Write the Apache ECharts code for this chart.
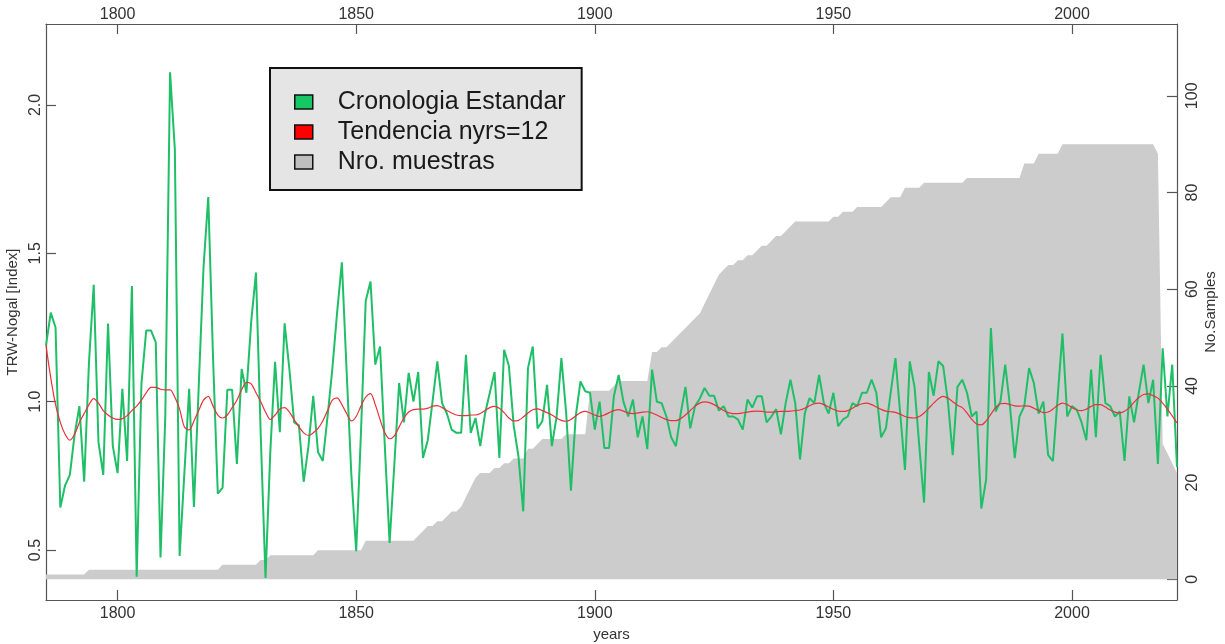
<!DOCTYPE html>
<html>
<head>
<meta charset="utf-8">
<title>Cronologia Estandar - Nogal</title>
<script src="https://cdn.jsdelivr.net/npm/echarts@6/dist/echarts.min.js"></script>
<style>
  html, body { margin: 0; padding: 0; background: #ffffff; }
  #chart { width: 1225px; height: 644px; }
</style>
</head>
<body>
<div id="chart"></div>
<script>
// First calendar year of the chronology; one value per year follows.
const firstYear = 1785;

// Standard ring-width chronology index (TRW), 1785-2022
const standardIndex = [
  1.19, 1.30, 1.25, 0.643, 0.718, 0.753, 0.89, 0.985, 0.73, 1.13,
  1.394, 0.863, 0.753, 1.263, 0.85, 0.759, 1.043, 0.80, 1.39, 0.41,
  1.06, 1.24, 1.24, 1.20, 0.475, 0.95, 2.11, 1.85, 0.48, 0.76,
  1.043, 0.645, 1.05, 1.45, 1.69, 1.15, 0.69, 0.71, 1.04, 1.04,
  0.79, 1.11, 1.03, 1.27, 1.435, 0.885, 0.406, 0.83, 1.134, 0.897,
  1.264, 1.11, 0.93, 0.92, 0.73, 0.85, 1.02, 0.83, 0.80, 0.95,
  1.11, 1.30, 1.47, 1.10, 0.75,
  0.496, 0.895, 1.34, 1.405, 1.125, 1.186, 0.85, 0.524, 0.79, 1.063,
  0.93, 1.097, 1.0, 1.10, 0.81, 0.87, 1.0, 1.136, 0.995, 0.96,
  0.906, 0.895, 0.895, 1.158, 0.895, 0.945, 0.85, 0.96, 1.03, 1.10,
  0.81, 1.175, 1.12, 0.92, 0.816, 0.63, 1.113, 1.186, 0.91, 0.934,
  1.057, 0.85, 0.95, 1.147, 0.962, 0.70, 0.95, 1.068, 1.035, 1.03,
  0.906, 1.0, 0.844, 0.844, 1.018,
  1.09, 1.0, 0.95, 1.007, 0.88, 0.95, 0.84, 1.108, 1.0, 0.995,
  0.95, 0.88, 0.85, 0.96, 1.05, 0.91, 0.985, 1.01, 1.046, 1.02,
  1.02, 0.97, 0.985, 0.95, 0.95, 0.94, 0.906, 1.007, 0.98, 1.018,
  1.018, 0.93, 0.95, 0.975, 0.89, 0.995, 1.074, 0.995, 0.805, 0.96,
  1.012, 0.995, 1.09, 0.995, 0.96, 1.03, 0.917, 0.94, 0.95, 0.995,
  0.985, 1.03, 1.03, 1.074, 1.03, 0.88, 0.91, 1.03,
  1.147, 0.96, 0.77, 1.136, 1.05, 0.85, 0.66, 1.10, 1.02, 1.136,
  1.12, 1.0, 0.82, 1.05, 1.074, 1.03, 0.95, 0.967, 0.64, 0.737,
  1.248, 0.967, 1.0, 1.125, 0.985, 0.81, 0.95, 0.985, 1.113, 1.063,
  0.96, 1.0, 0.82, 0.80, 1.018, 1.23, 0.95, 0.985, 0.973, 0.93,
  0.87, 1.108, 0.88, 1.158, 0.995, 0.985, 0.95, 0.967, 0.80, 1.018,
  0.93, 1.03, 1.125, 0.995, 1.074, 0.79, 1.18, 0.95, 1.125, 0.78
];

// Smoothed trend of the index (12-year spline), 1785-2022
const trend12 = [
  1.19, 1.08, 0.99, 0.93, 0.89, 0.87, 0.89, 0.93, 0.96, 0.99,
  1.01, 0.995, 0.97, 0.955, 0.945, 0.94, 0.943, 0.953, 0.97, 0.985,
  1.005, 1.03, 1.048, 1.048, 1.042, 1.04, 1.04, 1.015, 0.975, 0.915,
  0.905, 0.935, 0.97, 1.005, 1.018, 0.985, 0.955, 0.945, 0.955, 0.98,
  1.005, 1.04, 1.065, 1.06, 1.03, 1.0, 0.965, 0.94, 0.955, 0.975,
  0.98, 0.965, 0.94, 0.915, 0.895, 0.886, 0.895, 0.91, 0.935, 0.97,
  1.005, 1.013, 0.99, 0.96, 0.935,
  0.95, 0.985, 1.015, 1.027, 0.99, 0.94, 0.895, 0.875, 0.885, 0.915,
  0.945, 0.965, 0.973, 0.975, 0.975, 0.978, 0.985, 0.987, 0.98, 0.97,
  0.962, 0.955, 0.953, 0.953, 0.955, 0.955, 0.96, 0.97, 0.98, 0.984,
  0.978, 0.963, 0.945, 0.935, 0.937, 0.948, 0.962, 0.973, 0.976, 0.97,
  0.963, 0.955, 0.945, 0.937, 0.934, 0.94, 0.952, 0.963, 0.967, 0.962,
  0.955, 0.95, 0.955, 0.963, 0.97,
  0.973, 0.968, 0.962, 0.96, 0.962, 0.965, 0.966, 0.962, 0.955, 0.947,
  0.94, 0.936, 0.936, 0.943, 0.955, 0.97, 0.985, 0.995, 0.999, 0.997,
  0.99, 0.98, 0.97, 0.963, 0.96, 0.96, 0.962, 0.965, 0.967, 0.968,
  0.967, 0.965, 0.965, 0.966, 0.967, 0.967, 0.968, 0.97, 0.972, 0.978,
  0.986, 0.993, 0.995, 0.99, 0.982, 0.974, 0.968, 0.967, 0.97, 0.978,
  0.987, 0.993, 0.995, 0.99, 0.982, 0.974, 0.968, 0.966,
  0.964, 0.958, 0.95, 0.946, 0.945, 0.95, 0.962, 0.978, 0.995, 1.01,
  1.018, 1.012, 1.0, 0.988, 0.98, 0.962, 0.94, 0.925, 0.922, 0.935,
  0.958, 0.98, 0.993, 0.994, 0.99, 0.986, 0.985, 0.986, 0.985, 0.978,
  0.97, 0.963, 0.965, 0.975, 0.988, 0.995, 0.99, 0.98, 0.972, 0.97,
  0.975, 0.984, 0.99, 0.99, 0.982, 0.972, 0.965, 0.962, 0.968, 0.98,
  0.998, 1.014, 1.024, 1.026, 1.02, 1.012, 0.995, 0.975, 0.952, 0.928
];

// Number of measured series per year, 1785-2022
const sampleDepth = [
  1, 1, 1, 1, 1, 1, 1, 1, 1, 2,
  2, 2, 2, 2, 2, 2, 2, 2, 2, 2,
  2, 2, 2, 2, 2, 2, 2, 2, 2, 2,
  2, 2, 2, 2, 2, 2, 2, 3, 3, 3,
  3, 3, 3, 3, 3, 4, 4, 5, 5, 5,
  5, 5, 5, 5, 5, 5, 5, 6, 6, 6,
  6, 6, 6, 6, 6, 6, 6, 8, 8, 8,
  8, 8, 8, 8, 8, 8, 8, 8, 9, 10,
  11, 11, 12, 12, 13, 14, 14, 15, 17, 19,
  21, 22, 22, 22, 23, 23, 24, 24, 25, 25,
  25, 27, 27, 28, 29, 29, 29, 29, 29, 30,
  30, 30, 30, 30, 39, 39, 39, 39, 39, 40,
  41, 41, 41, 41, 41, 41, 41, 47, 47, 48,
  48, 49, 50, 51, 52, 53, 54, 55, 57, 59,
  61, 63, 64, 65, 65, 66, 66, 67, 67, 68,
  69, 69, 70, 71, 71, 72, 73, 74, 74, 74,
  74, 74, 74, 74, 74, 75, 75, 76, 76, 76,
  77, 77, 77, 77, 77, 77, 78, 79, 79, 79,
  81, 81, 81, 81, 82, 82, 82, 82, 82, 82,
  82, 82, 82, 83, 83, 83, 83, 83, 83, 83,
  83, 83, 83, 83, 83, 86, 86, 86, 88, 88,
  88, 88, 88, 90, 90, 90, 90, 90, 90, 90,
  90, 90, 90, 90, 90, 90, 90, 90, 90, 90,
  90, 90, 90, 88, 28, 26, 24, 22
];

// Tick positions shared by the bottom and top year axes
const yearTicks = [1800, 1850, 1900, 1950, 2000];
const indexTicks = [0.5, 1.0, 1.5, 2.0];
const sampleTicks = [0, 20, 40, 60, 80, 100];

const seriesNames = ['Cronologia Estandar', 'Tendencia nyrs=12', 'Nro. muestras'];

function pairWithYears(values) {
  return values.map((v, i) => [firstYear + i, v]);
}

const FONT = "'Liberation Sans', Arial, Helvetica, sans-serif";
const AXIS_GREY = '#555555';
const TEXT_GREY = '#333333';

function yearAxis(position, withName) {
  const axis = {
    type: 'value',
    position: position,
    min: 1785,
    max: 2022,
    axisLine: { show: true, onZero: false, lineStyle: { color: AXIS_GREY, width: 1.2 } },
    axisTick: { show: true, inside: true, length: 10, customValues: yearTicks,
                lineStyle: { color: AXIS_GREY, width: 1.2 } },
    axisLabel: { show: true, customValues: yearTicks, fontSize: 16, color: TEXT_GREY,
                 fontFamily: FONT, margin: position === 'top' ? 1 : 6,
                 formatter: v => String(Math.round(v)) },
    splitLine: { show: false }
  };
  if (withName) {
    axis.name = 'years';
    axis.nameLocation = 'middle';
    axis.nameGap = 26;
    axis.nameTextStyle = { fontSize: 15, color: TEXT_GREY, fontFamily: FONT };
  }
  return axis;
}

const chart = echarts.init(document.getElementById('chart'), null, { renderer: 'canvas' });

chart.setOption({
  animation: false,
  backgroundColor: '#ffffff',
  grid: { left: 46, right: 48, top: 24, bottom: 44, containLabel: false, outerBoundsMode: 'none' },
  legend: {
    orient: 'vertical',
    left: 270,
    top: 68,
    padding: [21, 16, 15, 24],
    itemGap: 4,
    itemWidth: 18,
    itemHeight: 14,
    backgroundColor: '#e5e5e5',
    borderColor: '#111111',
    borderWidth: 2,
    borderRadius: 0,
    selectedMode: false,
    textStyle: { fontSize: 25, fontFamily: FONT, color: '#1a1a1a', padding: [0, 0, 0, 20], lineHeight: 26 },
    data: [
      { name: seriesNames[0], icon: 'rect', itemStyle: { color: '#16c766', borderColor: '#111', borderWidth: 1.5 } },
      { name: seriesNames[1], icon: 'rect', itemStyle: { color: '#ff0000', borderColor: '#111', borderWidth: 1.5 } },
      { name: seriesNames[2], icon: 'rect', itemStyle: { color: '#bebebe', borderColor: '#111', borderWidth: 1.5 } }
    ]
  },
  xAxis: [yearAxis('bottom', true), yearAxis('top', false)],
  yAxis: [
    {
      type: 'value',
      position: 'left',
      min: 0.3315,
      max: 2.273,
      name: 'TRW-Nogal [Index]',
      nameLocation: 'middle',
      nameRotate: 90,
      nameGap: 26,
      nameMoveOverlap: false,
      nameTextStyle: { fontSize: 15, color: TEXT_GREY, fontFamily: FONT },
      axisLine: { show: true, onZero: false, lineStyle: { color: AXIS_GREY, width: 1.2 } },
      axisTick: { show: true, inside: true, length: 10, customValues: indexTicks,
                  lineStyle: { color: AXIS_GREY, width: 1.2 } },
      axisLabel: { show: true, customValues: indexTicks, rotate: 90, fontSize: 16, color: TEXT_GREY,
                   fontFamily: FONT, margin: 2, formatter: v => v.toFixed(1) },
      splitLine: { show: false }
    },
    {
      type: 'value',
      position: 'right',
      min: -4.28,
      max: 114.85,
      name: 'No.Samples',
      nameLocation: 'middle',
      nameRotate: 90,
      nameGap: 26,
      nameMoveOverlap: false,
      nameTextStyle: { fontSize: 15, color: TEXT_GREY, fontFamily: FONT },
      axisLine: { show: true, onZero: false, lineStyle: { color: AXIS_GREY, width: 1.2 } },
      axisTick: { show: true, inside: true, length: 10, customValues: sampleTicks,
                  lineStyle: { color: AXIS_GREY, width: 1.2 } },
      axisLabel: { show: true, customValues: sampleTicks, rotate: 90, fontSize: 16, color: TEXT_GREY,
                   fontFamily: FONT, margin: 8 },
      splitLine: { show: false }
    }
  ],
  series: [
    {
      name: seriesNames[2],
      type: 'line',
      xAxisIndex: 0,
      yAxisIndex: 1,
      data: pairWithYears(sampleDepth),
      showSymbol: false,
      symbol: 'none',
      lineStyle: { width: 0, color: '#cccccc' },
      itemStyle: { color: '#cccccc' },
      areaStyle: { color: '#cccccc', opacity: 1, origin: 0 },
      z: 1,
      silent: true
    },
    {
      name: seriesNames[0],
      type: 'line',
      xAxisIndex: 0,
      yAxisIndex: 0,
      data: pairWithYears(standardIndex),
      showSymbol: false,
      symbol: 'none',
      lineStyle: { width: 2, color: '#1fbf68' },
      itemStyle: { color: '#1fbf68' },
      z: 3,
      silent: true
    },
    {
      name: seriesNames[1],
      type: 'line',
      xAxisIndex: 0,
      yAxisIndex: 0,
      data: pairWithYears(trend12),
      showSymbol: false,
      symbol: 'none',
      smooth: 0.3,
      lineStyle: { width: 1.2, color: '#e8313a' },
      itemStyle: { color: '#e8313a' },
      z: 4,
      silent: true
    }
  ]
});
</script>
</body>
</html>
